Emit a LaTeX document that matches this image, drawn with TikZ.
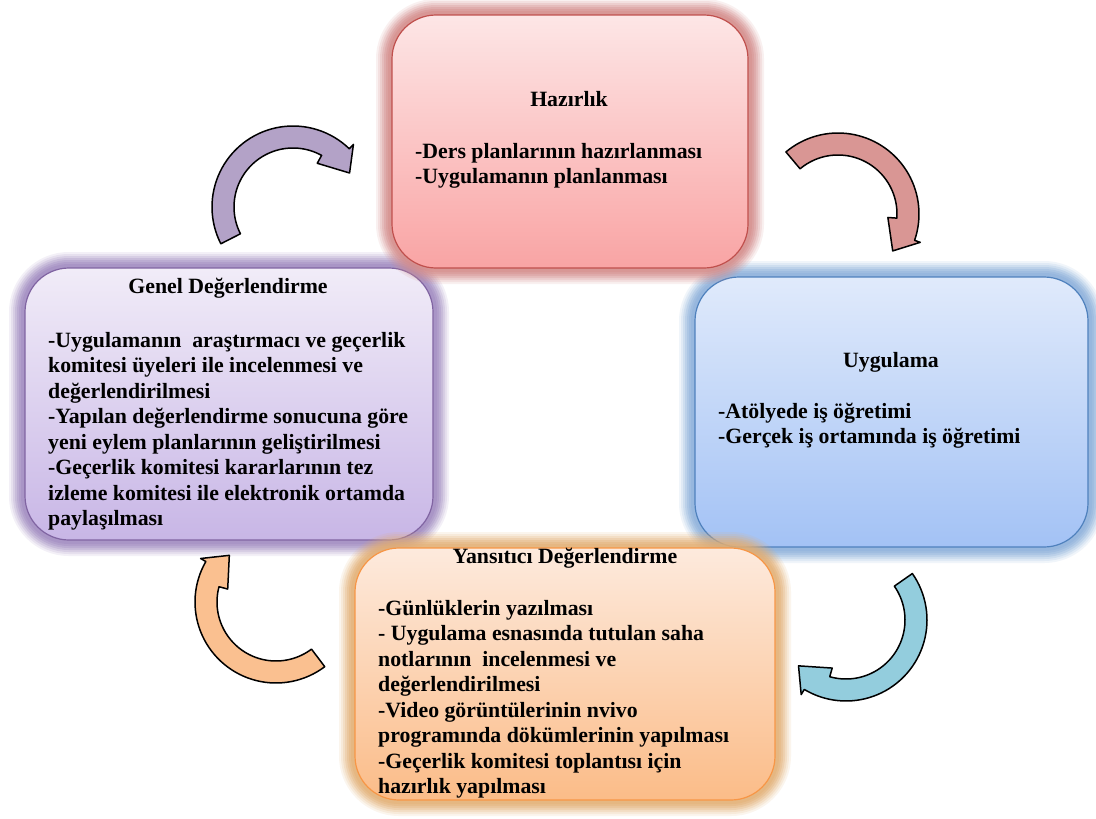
\documentclass[tikz,border=0pt]{standalone}
\usepackage{fontspec}
\setmainfont{Liberation Serif}
\usetikzlibrary{decorations.pathmorphing}
\definecolor{spellred}{HTML}{E03030}
\definecolor{redtop}{HTML}{FDE6E6}
\definecolor{redbot}{HTML}{F9A4A4}
\definecolor{redglow}{HTML}{D48A88}
\definecolor{redline}{HTML}{C0504D}
\definecolor{bluetop}{HTML}{E0EAFB}
\definecolor{bluebot}{HTML}{A3C2F5}
\definecolor{blueglow}{HTML}{8AAEDB}
\definecolor{blueline}{HTML}{4F81BD}
\definecolor{purtop}{HTML}{F1ECF8}
\definecolor{purbot}{HTML}{C8B6E6}
\definecolor{purglow}{HTML}{9F88C0}
\definecolor{purline}{HTML}{8064A2}
\definecolor{ortop}{HTML}{FDEADD}
\definecolor{orbot}{HTML}{FBBC88}
\definecolor{orglow}{HTML}{E3AE72}
\definecolor{orline}{HTML}{F79646}
\definecolor{arrpurple}{HTML}{B3A2C7}
\definecolor{arrred}{HTML}{D99694}
\definecolor{arrblue}{HTML}{93CDDD}
\definecolor{arrorange}{HTML}{FAC090}
\newcommand\boxfont{\bfseries\fontsize{21.8}{25.5}\selectfont}
\newlength\vidw
\newlength\nviw
\tikzset{
  glow/.style={preaction={draw=#1,line width=32pt,draw opacity=0.12},
               preaction={draw=#1,line width=28pt,draw opacity=0.15},
               preaction={draw=#1,line width=24pt,draw opacity=0.2},
               preaction={draw=#1,line width=20pt,draw opacity=0.25},
               preaction={draw=#1,line width=16pt,draw opacity=0.3},
               preaction={draw=#1,line width=12pt,draw opacity=0.35},
               preaction={draw=#1,line width=8pt,draw opacity=0.4}},
  cyclebox/.style={rectangle, rounded corners=44pt, line width=1.2pt, inner sep=0pt},
  title/.style={inner sep=0pt, anchor=base, font=\boxfont},
  body/.style={inner sep=0pt, anchor=base west, font=\boxfont},
  arrowline/.style={draw=black, line width=1.5pt, line join=round},
  spell/.style={draw=spellred, line width=0.8pt, decorate,
                decoration={snake, amplitude=1.2pt, segment length=4pt}},
}
\newcommand\cyclearrow[5]{%
  \pgfmathsetmacro\aob{#4+15}%
  \pgfmathsetmacro\atip{#4+30}%
  \draw[arrowline, fill=#5, shift={(#1,#2)}]
    plot[domain=#3:\aob, samples=50] (\x:81) -- (\aob:87) -- (\atip:66) -- (#4:50)
    -- plot[domain=#4:#3, samples=50] (\x:59) -- cycle;
}
\begin{document}
\begin{tikzpicture}[x=1pt,y=-1pt]
\useasboundingbox[fill=white] (0,0) rectangle (1096,819);

% boxes
\node[cyclebox, glow=purglow, draw=purline, top color=purtop, bottom color=purbot,
      minimum width=408pt, minimum height=272pt] (gen) at (229,404) {};
\node[cyclebox, glow=blueglow, draw=blueline, top color=bluetop, bottom color=bluebot,
      minimum width=393pt, minimum height=270pt] (uyg) at (891.5,412) {};
\node[cyclebox, glow=redglow, draw=redline, top color=redtop, bottom color=redbot,
      minimum width=356pt, minimum height=253pt] (haz) at (570,141.5) {};
\node[cyclebox, glow=orglow, draw=orline, top color=ortop, bottom color=orbot,
      minimum width=420pt, minimum height=252pt] (yan) at (565,674) {};

% arrows
\cyclearrow{293}{207}{153}{299}{arrpurple}
\cyclearrow{838}{214}{230}{364}{arrred}
\cyclearrow{846}{620}{-35}{106}{arrblue}
\cyclearrow{276}{602}{53}{195}{arrorange}

% texts
\node[title] (hazT) at (569,106) {Hazırlık};
\node[body] (hazB) at (415,158) {\parbox[t]{330pt}{\raggedright
-Ders planlarının hazırlanması\\
-Uygulamanın planlanması}};

\node[title] (uygT) at (891,367) {Uygulama};
\node[body] (uygB) at (718,418) {\parbox[t]{360pt}{\raggedright
-Atölyede iş öğretimi\\
-Gerçek iş ortamında iş öğretimi}};

\node[title] (genT) at (228,293) {Genel Değerlendirme};
\node[body] (genB) at (48,347) {\parbox[t]{390pt}{\raggedright
-Uygulamanın~ araştırmacı ve geçerlik\\
komitesi üyeleri ile incelenmesi ve\\
değerlendirilmesi\\
-Yapılan değerlendirme sonucuna göre\\
yeni eylem planlarının geliştirilmesi\\
-Geçerlik komitesi kararlarının tez\\
izleme komitesi ile elektronik ortamda\\
paylaşılması}};

\node[title] (yanT) at (565,563) {Yansıtıcı Değerlendirme};
\node[body] (yanB) at (378,615) {\parbox[t]{390pt}{\raggedright
-Günlüklerin yazılması\\
- Uygulama esnasında tutulan saha\\
notlarının~ incelenmesi ve\\
değerlendirilmesi\\
-Video görüntülerinin nvivo\\
programında dökümlerinin yapılması\\
-Geçerlik komitesi toplantısı için\\
hazırlık yapılması}};
\settowidth{\vidw}{\boxfont -Video görüntülerinin }
\settowidth{\nviw}{\boxfont nvivo}
\draw[spell] ([xshift=\vidw, yshift=-107pt]yanB.base west) -- ++(\nviw,0);
\end{tikzpicture}
\end{document}
